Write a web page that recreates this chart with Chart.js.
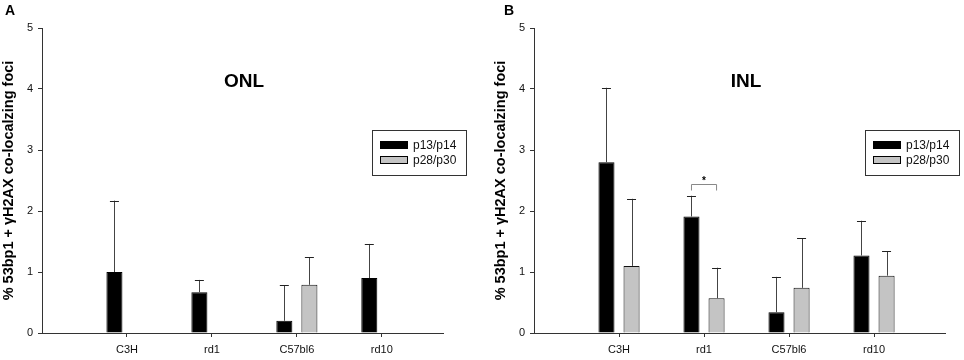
<!DOCTYPE html>
<html>
<head>
<meta charset="utf-8">
<script src="https://cdn.jsdelivr.net/npm/chart.js@4.4.1/dist/chart.umd.min.js"></script>
<style>
  body { margin: 0; background: #fff; }
  .panel { position: absolute; top: 0; height: 360px; }
  .letter { position: absolute; top: 2px; font: bold 14px "Liberation Sans", Arial, sans-serif; color: #000; }
</style>
</head>
<body>
<div class="panel" style="left:0;width:480px"><canvas id="chartA" width="480" height="360"></canvas></div>
<div class="panel" style="left:480px;width:484px"><canvas id="chartB" width="484" height="360"></canvas></div>
<div class="letter" style="left:5px">A</div>
<div class="letter" style="left:504px">B</div>
<script>
// data
const categories = ['C3H', 'rd1', 'C57bl6', 'rd10'];
const seriesNames = ['p13/p14', 'p28/p30'];
const yTicks = [0, 1, 2, 3, 4, 5];

// ONL
const onlYoung = [1.0, 0.67, 0.20, 0.90];
const onlYoungSd = [1.17, 0.20, 0.58, 0.56];
const onlOld = [null, null, 0.79, null];
const onlOldSd = [null, null, 0.45, null];

// INL
const inlYoung = [2.80, 1.91, 0.34, 1.27];
const inlYoungSd = [1.22, 0.34, 0.58, 0.57];
const inlOld = [1.10, 0.57, 0.74, 0.94];
const inlOldSd = [1.10, 0.50, 0.81, 0.40];

const FONT = '"Liberation Sans", Arial, sans-serif';

function toPoints(values) {
    return values.map((v, i) => ({ x: i + 1, y: v }));
}

// upward error bars with centred caps
const errorBars = {
    id: 'errorBars',
    afterDatasetsDraw(chart, args, opts) {
        const ctx = chart.ctx;
        const y = chart.scales.y;
        chart.data.datasets.forEach((ds, di) => {
            const meta = chart.getDatasetMeta(di);
            ds.sd.forEach((sd, i) => {
                if (sd == null || ds.data[i].y == null) return;
                const bar = meta.data[i];
                const top = y.getPixelForValue(ds.data[i].y + sd);
                ctx.save();
                ctx.strokeStyle = '#444';
                ctx.lineWidth = 1;
                ctx.beginPath();
                ctx.moveTo(Math.round(bar.x) + 0.5, bar.y);
                ctx.lineTo(Math.round(bar.x) + 0.5, top);
                ctx.stroke();
                ctx.strokeStyle = '#222';
                ctx.beginPath();
                ctx.moveTo(bar.x - 4.5, Math.round(top) + 0.5);
                ctx.lineTo(bar.x + 4.5, Math.round(top) + 0.5);
                ctx.stroke();
                ctx.restore();
            });
        });
    }
};

// boxed legend and the panel heading drawn inside the plot
const panelDecor = {
    id: 'panelDecor',
    afterDraw(chart, args, opts) {
        const ctx = chart.ctx;
        ctx.save();
        ctx.fillStyle = '#000';
        ctx.font = 'bold 19px ' + FONT;
        ctx.textAlign = 'center';
        ctx.textBaseline = 'middle';
        ctx.fillText(opts.heading, opts.headingX, 82);

        // legend box
        const lx = opts.legendX, ly = 130.5, lw = 94, lh = 45;
        ctx.strokeStyle = '#333';
        ctx.lineWidth = 1;
        ctx.strokeRect(lx + 0.5, ly, lw, lh);
        chart.data.datasets.forEach((ds, i) => {
            const sy = ly + 11 + i * 15;
            ctx.fillStyle = ds.backgroundColor;
            ctx.fillRect(lx + 8.5, sy, 27, 7);
            ctx.strokeStyle = '#000';
            ctx.strokeRect(lx + 8.5, sy, 27, 7);
            ctx.fillStyle = '#111';
            ctx.font = '12px ' + FONT;
            ctx.textAlign = 'left';
            ctx.fillText(ds.label, lx + 41, sy + 4);
        });

        if (opts.bracket) {
            const b = opts.bracket;
            const m0 = chart.getDatasetMeta(0).data[b.index];
            const m1 = chart.getDatasetMeta(1).data[b.index];
            const by = Math.round(chart.scales.y.getPixelForValue(b.level)) + 0.5;
            ctx.strokeStyle = '#888';
            ctx.beginPath();
            ctx.moveTo(m0.x, by + 6);
            ctx.lineTo(m0.x, by);
            ctx.lineTo(m1.x, by);
            ctx.lineTo(m1.x, by + 6);
            ctx.stroke();
            ctx.fillStyle = '#000';
            ctx.font = 'bold 10px ' + FONT;
            ctx.textAlign = 'center';
            ctx.fillText('*', (m0.x + m1.x) / 2, by - 3);
        }
        ctx.restore();
    }
};

function makePanel(canvasId, young, youngSd, old, oldSd, xMax, padLeft, padRight, decor) {
    new Chart(document.getElementById(canvasId), {
        type: 'bar',
        data: {
            datasets: [{
                label: seriesNames[0],
                data: toPoints(young),
                sd: youngSd,
                backgroundColor: '#000000',
                borderColor: '#000000',
                borderWidth: 1
            }, {
                label: seriesNames[1],
                data: toPoints(old),
                sd: oldSd,
                backgroundColor: '#c4c4c4',
                borderColor: '#111111',
                borderWidth: 1
            }]
        },
        options: {
            responsive: false,
            animation: false,
            barPercentage: 0.64,
            categoryPercentage: 0.59,
            layout: { padding: { left: padLeft, right: padRight, top: 28, bottom: 0 } },
            plugins: {
                legend: { display: false },
                tooltip: { enabled: false },
                panelDecor: decor
            },
            scales: {
                x: {
                    type: 'linear',
                    offset: false,
                    min: 0,
                    max: xMax,
                    afterFit: (s) => { s.height = 27; },
                    afterBuildTicks: (s) => { s.ticks = categories.map((c, i) => ({ value: i + 1 })); },
                    grid: { display: true, offset: false, drawOnChartArea: false, drawTicks: true, tickLength: 4, color: '#333' },
                    border: { display: true, color: '#333', width: 1 },
                    ticks: {
                        color: '#111',
                        font: { family: FONT, size: 11 },
                        padding: 6,
                        maxRotation: 0,
                        autoSkip: false,
                        callback: (v) => categories[v - 1] || ''
                    }
                },
                y: {
                    min: 0,
                    max: 5,
                    afterFit: (s) => { s.width = 42; },
                    afterBuildTicks: (s) => { s.ticks = yTicks.map(v => ({ value: v })); },
                    grid: { display: true, drawOnChartArea: false, drawTicks: true, tickLength: 4, color: '#333' },
                    border: { display: true, color: '#333', width: 1 },
                    ticks: {
                        color: '#111',
                        font: { family: FONT, size: 11 },
                        padding: 5
                    },
                    title: {
                        display: true,
                        text: '% 53bp1 + \u03B3H2AX co-localzing foci',
                        color: '#000',
                        font: { family: FONT, size: 14.5, weight: 'bold' },
                        padding: { top: 0, bottom: 0 }
                    }
                }
            }
        },
        plugins: [errorBars, panelDecor]
    });
}

makePanel('chartA', onlYoung, onlYoungSd, onlOld, onlOldSd, 4.72, 0, 37,
    { heading: 'ONL', headingX: 244, legendX: 372 });
makePanel('chartB', inlYoung, inlYoungSd, inlOld, inlOldSd, 4.835, 12, 19,
    { heading: 'INL', headingX: 266, legendX: 385, bracket: { index: 1, level: 2.45 } });
</script>
</body>
</html>
